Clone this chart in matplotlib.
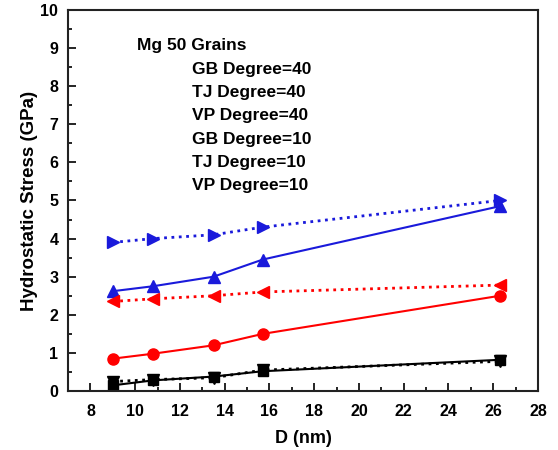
import matplotlib
matplotlib.use("Agg")
from matplotlib import pyplot as plt
from matplotlib.ticker import MultipleLocator

plt.rcParams['font.family'] = ['Liberation Sans', 'DejaVu Sans']
plt.rcParams['font.weight'] = 'bold'

d_nm = [9.0, 10.8, 13.5, 15.7, 26.3]

gb40 = [0.15, 0.28, 0.38, 0.52, 0.82]
tj40 = [0.85, 0.98, 1.20, 1.50, 2.50]
vp40 = [2.62, 2.75, 3.00, 3.45, 4.85]
gb10 = [0.25, 0.30, 0.35, 0.55, 0.78]
tj10 = [2.35, 2.42, 2.50, 2.60, 2.78]
vp10 = [3.90, 4.00, 4.10, 4.30, 5.00]

labels = ["GB Degree=40", "TJ Degree=40", "VP Degree=40",
          "GB Degree=10", "TJ Degree=10", "VP Degree=10"]

fig = plt.figure(figsize=(5.58, 4.5), dpi=100)
ax = fig.add_axes([0.122, 0.131, 0.842, 0.847])

ax.plot(d_nm, gb40, color='black', ls='-', lw=1.5, marker='s', ms=7, label=labels[0])
ax.plot(d_nm, tj40, color='red', ls='-', lw=1.5, marker='o', ms=8, label=labels[1])
ax.plot(d_nm, vp40, color='#1a1adb', ls='-', lw=1.5, marker='^', ms=8, label=labels[2])
ax.plot(d_nm, gb10, color='black', ls=':', lw=2, marker='v', ms=8, label=labels[3])
ax.plot(d_nm, tj10, color='red', ls=':', lw=2, marker='<', ms=8, label=labels[4])
ax.plot(d_nm, vp10, color='#1a1adb', ls=':', lw=2, marker='>', ms=8, label=labels[5])

ax.set_xlim(7, 28)
ax.set_ylim(0, 10)
ax.xaxis.set_major_locator(MultipleLocator(2))
ax.xaxis.set_minor_locator(MultipleLocator(1))
ax.yaxis.set_major_locator(MultipleLocator(1))
ax.yaxis.set_minor_locator(MultipleLocator(0.5))
ax.tick_params(which='both', direction='in', top=False, right=False, labelsize=11.5)
ax.tick_params(axis='x', pad=9)
ax.tick_params(axis='y', pad=7)
ax.tick_params(which='major', length=6, width=1.2)
ax.tick_params(which='minor', length=3, width=1.2)
for s in ax.spines.values():
    s.set_linewidth(1.5)
    s.set_color('#222222')

ax.set_xlabel("D (nm)", fontsize=13, fontweight='bold', labelpad=8)
ax.set_ylabel("Hydrostatic Stress (GPa)", fontsize=13.5, fontweight='bold', labelpad=2)

leg = ax.legend(title="Mg 50 Grains", loc='upper left', bbox_to_anchor=(0.128, 0.948),
                frameon=False, fontsize=12.5, title_fontproperties={'weight': 'bold', 'size': 12.5},
                handlelength=2.6, handletextpad=0.6, labelspacing=0.47, alignment='left',
                borderpad=0)
for h in leg.legend_handles:
    h.set_visible(False)

fig.savefig("out.png", dpi=100)
